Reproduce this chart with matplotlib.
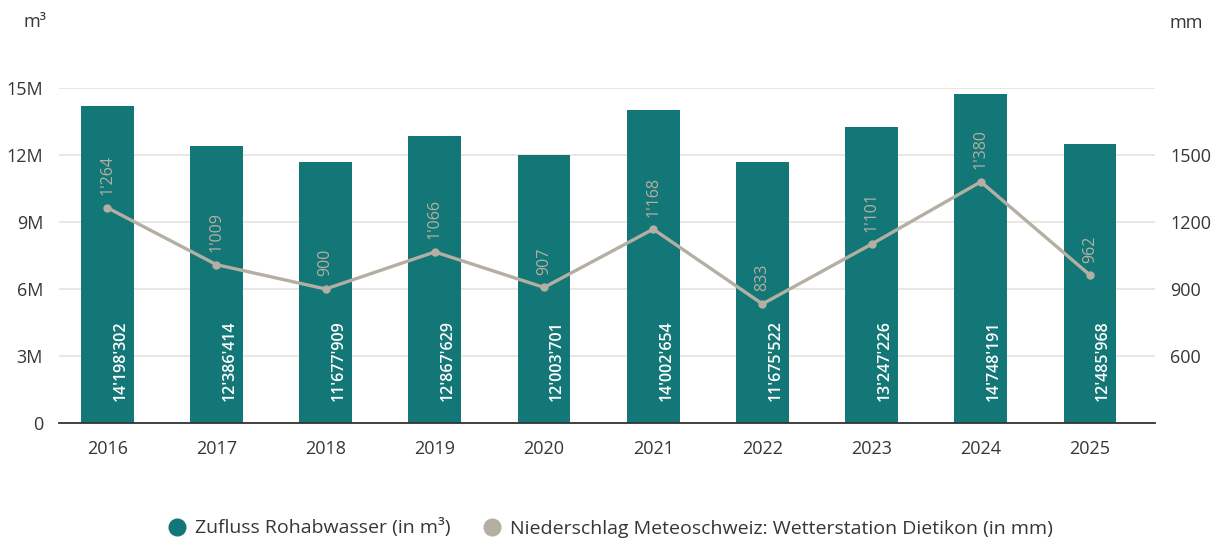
import matplotlib
matplotlib.use("Agg")
import matplotlib.pyplot as plt
from matplotlib.lines import Line2D
import numpy as np

years = ["2016", "2017", "2018", "2019", "2020", "2021", "2022", "2023", "2024", "2025"]
inflow_m3 = [14198302, 12386414, 11677909, 12867629, 12003701,
             14002654, 11675522, 13247226, 14748191, 12485968]
rain_mm = [1264, 1009, 900, 1066, 907, 1168, 833, 1101, 1380, 962]
left_ticks = [0, 3e6, 6e6, 9e6, 12e6, 15e6]
left_labels = ["0", "3M", "6M", "9M", "12M", "15M"]
right_ticks = [600, 900, 1200, 1500]

TEAL = "#147777"
GREY = "#b4afa2"
TXT = "#3a3531"
GRID = "#e6e3dc"

plt.rcParams['font.family'] = ['Open Sans', 'DejaVu Sans']


def swiss(v):
    return f"{v:,}".replace(",", "'")


fig = plt.figure(figsize=(12.12, 5.39), dpi=100)
ax = fig.add_axes([59 / 1212, 116 / 539, 1096 / 1212, 335 / 539])
ax2 = ax.twinx()

x = np.arange(len(years))

# bars (left axis)
ax.bar(x, inflow_m3, width=0.483, color=TEAL, zorder=2)
ax.set_ylim(0, 15e6)
ax.set_xlim(-0.442, len(years) - 1 + 0.595)
ax.set_yticks(left_ticks)
ax.set_yticklabels(left_labels)
ax.yaxis.grid(True, color=GRID, lw=1.2, zorder=0)
ax.set_axisbelow(True)
ax.set_xticks(x)
ax.set_xticklabels(years)
ax.tick_params(axis='both', length=0, labelsize=13, colors=TXT)
ax.tick_params(axis='y', pad=11.5)
ax.tick_params(axis='x', pad=12)
for s in ['top', 'left', 'right']:
    ax.spines[s].set_visible(False)
ax.spines['bottom'].set_color('#333333')
ax.spines['bottom'].set_linewidth(1.3)

for xi, v in zip(x, inflow_m3):
    ax.annotate(swiss(v), (xi, 1.0e6), xytext=(9.5, 0), textcoords='offset points',
                rotation=90, ha='center', va='bottom', color='white',
                fontsize=11.5, fontweight='semibold', zorder=3)

# line (right axis)
ax2.plot(x, rain_mm, color=GREY, lw=2.4, marker='o', markersize=5, zorder=4)
ax2.set_ylim(300, 1800)
ax2.set_yticks(right_ticks)
ax2.tick_params(axis='y', length=0, labelsize=13, colors=TXT, pad=11)
for s in ['top', 'left', 'right', 'bottom']:
    ax2.spines[s].set_visible(False)

for xi, v in zip(x, rain_mm):
    ax2.annotate(swiss(v), (xi, v), xytext=(0, 9), textcoords='offset points',
                 rotation=90, ha='center', va='bottom', color=GREY,
                 fontsize=11.5, zorder=5)

# unit labels
fig.text(35 / 1212, 1 - 22 / 539, "m³", ha='center', va='center', fontsize=13, color=TXT)
fig.text(1186 / 1212, 1 - 23 / 539, "mm", ha='center', va='center', fontsize=13, color=TXT)

handles = [
    Line2D([], [], ls='none', marker='o', markersize=12, color=TEAL),
    Line2D([], [], ls='none', marker='o', markersize=12, color=GREY),
]
fig.legend(handles, ["Zufluss Rohabwasser (in m³)",
                     "Niederschlag Meteoschweiz: Wetterstation Dietikon (in mm)"],
           loc='center', bbox_to_anchor=(610 / 1212, 1 - 528 / 539), ncol=2,
           frameon=False, fontsize=14, labelcolor=TXT, handletextpad=0.45,
           columnspacing=1.6, handlelength=1.0)

fig.savefig("out.png", dpi=100)
